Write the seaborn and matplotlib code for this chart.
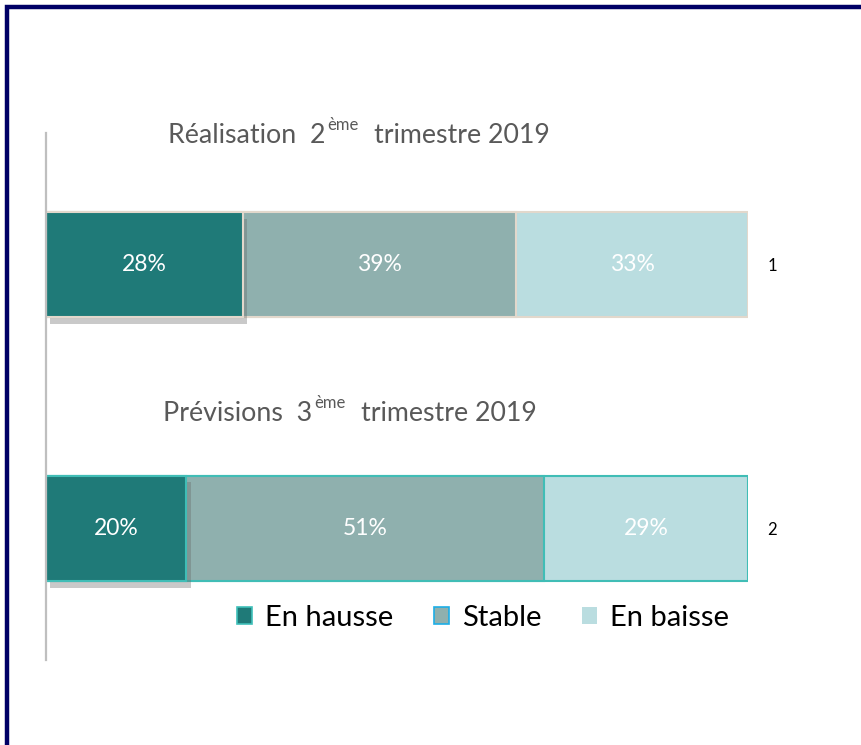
import matplotlib
matplotlib.use("Agg")
import matplotlib.pyplot as plt
import matplotlib.patheffects as pe
from matplotlib.patches import Patch, Rectangle
import numpy as np
import pandas as pd
import seaborn as sns

# Data
rows = ["1", "2"]
segments = ["En hausse", "Stable", "En baisse"]
en_hausse = [28, 20]
stable = [39, 51]
en_baisse = [33, 29]
titles = [("Réalisation  2", "ème", "trimestre 2019"),
          ("Prévisions  3", "ème", "trimestre 2019")]

colors = {"En hausse": "#1F7A78", "Stable": "#8FB0AE", "En baisse": "#BADDE0"}
row_edges = ["#E2D8CC", "#40BDB6"]

sns.set_theme(style="white")
plt.rcParams["font.family"] = ["Lato", "DejaVu Sans"]

df = pd.DataFrame({"row": rows, "En hausse": en_hausse, "Stable": stable, "En baisse": en_baisse})
df["cum1"] = df["En hausse"]
df["cum2"] = df["cum1"] + df["Stable"]
df["cum3"] = df["cum2"] + df["En baisse"]

fig = plt.figure(figsize=(8.61, 7.45), dpi=100)
ax = fig.add_axes([46 / 861, 1 - 660 / 745, 702 / 861, 527 / 745])

# stacked bars drawn as overlapping cumulative bars, widest first
for seg, col in [("En baisse", "cum3"), ("Stable", "cum2"), ("En hausse", "cum1")]:
    sns.barplot(data=df, x=col, y="row", orient="h", color=colors[seg],
                width=0.4, saturation=1, ax=ax, linewidth=0)

# edge colours + soft shadow on the first segment
for i, p in enumerate(ax.patches):
    r = i % 2
    p.set_edgecolor(row_edges[r])
    p.set_linewidth(1.5)
    if i >= 4:
        p.set_path_effects([pe.SimplePatchShadow(offset=(3, -5), shadow_rgbFace="#666666", alpha=0.35),
                            pe.Normal()])

ax.set_xlim(0, 100)
ax.set_ylim(1.5, -0.5)
ax.set_xlabel("")
ax.set_ylabel("")
ax.set_xticks([])
ax.yaxis.tick_right()
ax.tick_params(axis="y", length=0, pad=14, labelsize=12, labelcolor="black")
for s in ["top", "right", "bottom"]:
    ax.spines[s].set_visible(False)
ax.spines["left"].set_color("#BFBFBF")
ax.spines["left"].set_linewidth(1.6)

# value labels in each segment
for r in range(len(rows)):
    left = 0
    for seg in segments:
        v = df.loc[r, seg]
        ax.text(left + v / 2, r, f"{v}%", ha="center", va="center",
                color="white", fontsize=16.5)
        left += v

# titles with superscript
renderer = fig.canvas.get_renderer()
title_pos = [(17.4, -0.49), (16.7, 0.565)]
for (a, sup, b), (tx, ty) in zip(titles, title_pos):
    t1 = ax.text(tx, ty, a, ha="left", va="center", fontsize=19.3, color="#595959")
    t2 = ax.annotate(sup, xy=(1, 0.6), xycoords=t1, xytext=(1, 0), textcoords="offset points",
                     ha="left", va="bottom", fontsize=12, color="#595959")
    w = t2.get_window_extent(renderer).width * 0.72
    ax.annotate(b, xy=(1, 0), xycoords=t1, xytext=(w + 12, 0),
                textcoords="offset points", ha="left", va="bottom", fontsize=19.3, color="#595959")

# legend
handles = [Patch(facecolor=colors["En hausse"], edgecolor="#3FC0BA", linewidth=1.2),
           Patch(facecolor=colors["Stable"], edgecolor="#1CAEE6", linewidth=1.2),
           Patch(facecolor=colors["En baisse"], edgecolor="none")]
leg = fig.legend(handles, segments, loc="center", bbox_to_anchor=(483 / 861, 1 - 618 / 745),
                 ncol=3, frameon=False, fontsize=21, handlelength=0.5, handleheight=0.5,
                 handletextpad=0.45, columnspacing=1.4)
for t in leg.get_texts():
    t.set_color("black")

# dark frame (top and left visible)
fig.patches.append(Rectangle((7 / 861, -0.1), 1.2, 1 - 7 / 745 + 0.1, transform=fig.transFigure,
                             fill=False, edgecolor="#000066", linewidth=3.2))

fig.savefig("out.png", dpi=100)
